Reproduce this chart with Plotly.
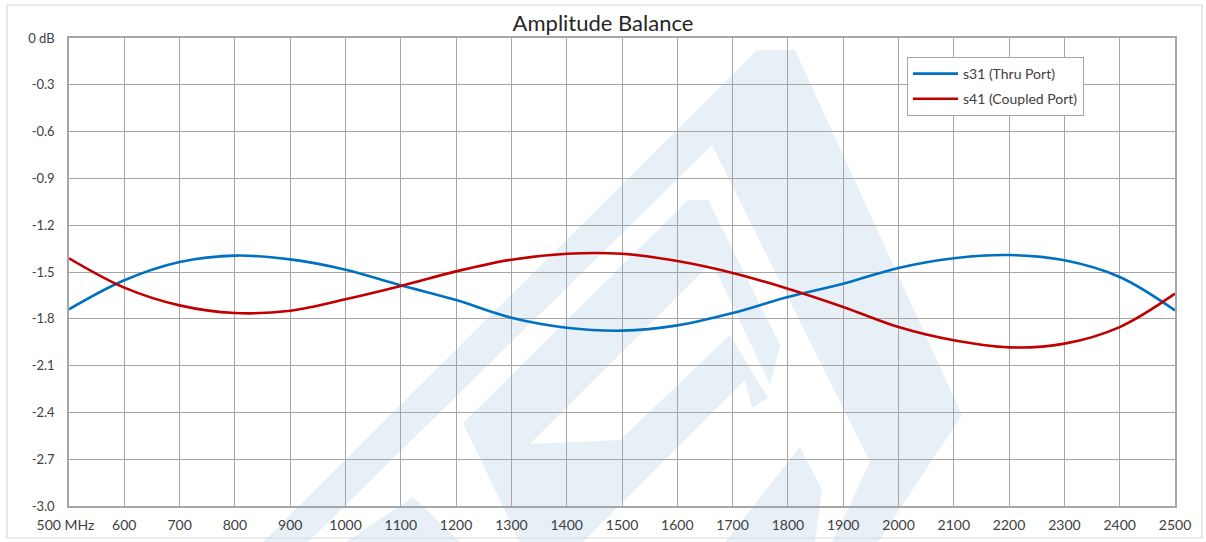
import plotly.graph_objects as go

# ---- data ----
freq_mhz = [500, 600, 700, 800, 900, 1000, 1100, 1200, 1300, 1400, 1500,
            1600, 1700, 1800, 1900, 2000, 2100, 2200, 2300, 2400, 2500]
s31_thru = [-1.739, -1.553, -1.436, -1.395, -1.419, -1.485, -1.585, -1.680,
            -1.793, -1.857, -1.876, -1.842, -1.763, -1.660, -1.575, -1.474,
            -1.412, -1.391, -1.425, -1.532, -1.746]
s41_coupled = [-1.412, -1.600, -1.714, -1.763, -1.748, -1.675, -1.590, -1.496,
               -1.421, -1.383, -1.383, -1.430, -1.506, -1.607, -1.724, -1.853,
               -1.938, -1.983, -1.959, -1.853, -1.639]

x_tickvals = list(range(500, 2501, 100))
x_ticktext = ["500 MHz\u00a0\u00a0"] + [str(v) for v in range(600, 2501, 100)]
y_tickvals = [0, -0.3, -0.6, -0.9, -1.2, -1.5, -1.8, -2.1, -2.4, -2.7, -3.0]
y_ticktext = ["0 dB", "-0.3", "-0.6", "-0.9", "-1.2", "-1.5", "-1.8",
              "-2.1", "-2.4", "-2.7", "-3.0"]

W, H = 1206, 542
L, R, T, B = 69, 31, 38, 36

fig = go.Figure()
fig.add_trace(go.Scatter(x=freq_mhz, y=s31_thru, mode="lines",
                         name="s31 (Thru Port)", legendgroup="a",
                         line=dict(color="#0070c0", width=2.6, shape="spline", smoothing=1.0)))
fig.add_trace(go.Scatter(x=freq_mhz, y=s41_coupled, mode="lines",
                         name="s41 (Coupled Port)", legendgroup="b",
                         line=dict(color="#c00000", width=2.6, shape="spline", smoothing=1.0)))

# ---- faint background watermark (decoration), pixel -> paper coordinates ----
pw = W - L - R
ph = H - T - B


def px(x, y):
    return (x - L) / pw, (H - B - y) / ph


def path(pts):
    s = ""
    for i, (x, y) in enumerate(pts):
        u, v = px(x, y)
        s += ("M" if i == 0 else "L") + f"{u:.4f},{v:.4f} "
    return s + "Z"


wm_color = "rgb(231,239,247)"
polys = [
    [(263, 542), (757, 50), (795, 50), (962, 415), (878, 542), (832, 542),
     (870, 462), (712, 145), (308, 542)],
    [(463, 423), (688, 200), (708, 200), (780, 345), (770, 385), (712, 262),
     (530, 444), (620, 440), (730, 335), (768, 398), (752, 408), (745, 380),
     (583, 542), (520, 542)],
    [(346, 542), (413, 497), (460, 542)],
    [(725, 542), (800, 447), (822, 490), (815, 542)],
]
shapes = [dict(type="path", xref="paper", yref="paper", path=path(p),
               fillcolor=wm_color, line=dict(width=0), layer="below")
          for p in polys]
# outer chart border
shapes.append(dict(type="rect", xref="paper", yref="paper",
                   x0=(7 - L) / pw, x1=(1202 - L) / pw,
                   y0=(H - B - 538) / ph, y1=(H - B - 5) / ph,
                   line=dict(color="#d9d9d9", width=1.2), fillcolor="rgba(0,0,0,0)",
                   layer="below"))

fig.update_layout(
    width=W, height=H,
    margin=dict(l=L, r=R, t=T, b=B, autoexpand=False),
    paper_bgcolor="white", plot_bgcolor="rgba(0,0,0,0)",
    font=dict(family="Lato, 'Open Sans', sans-serif", size=14, color="#404040"),
    title=dict(text="Amplitude Balance", x=0.5, xref="container", xanchor="center",
               y=1 - 23 / H, yref="container", yanchor="middle",
               font=dict(size=22, color="#262626")),
    shapes=shapes,
    showlegend=True,
    legend=dict(x=(907 - L) / pw, y=(H - B - 57) / ph, xanchor="left", yanchor="top",
                bgcolor="white", bordercolor="#a6a6a6", borderwidth=1,
                font=dict(size=14, color="#404040"), tracegroupgap=4,
                itemwidth=45),
)
fig.update_xaxes(range=[500, 2500], tickvals=x_tickvals, ticktext=x_ticktext,
                 showgrid=True, gridcolor="#a6a6a6", gridwidth=1,
                 showline=True, linecolor="#a6a6a6", linewidth=1.5, mirror=True,
                 ticks="", ticklabelstandoff=5, zeroline=False, automargin=False)
fig.update_yaxes(range=[-3.0, 0], tickvals=y_tickvals, ticktext=y_ticktext,
                 tickfont=dict(size=13),
                 showgrid=True, gridcolor="#a6a6a6", gridwidth=1,
                 showline=True, linecolor="#a6a6a6", linewidth=1.5, mirror=True,
                 ticks="", ticklabelstandoff=10, zeroline=False, automargin=False)

fig.write_html("out.html", config={"displayModeBar": False},
               post_script="document.body.style.margin='0';")
